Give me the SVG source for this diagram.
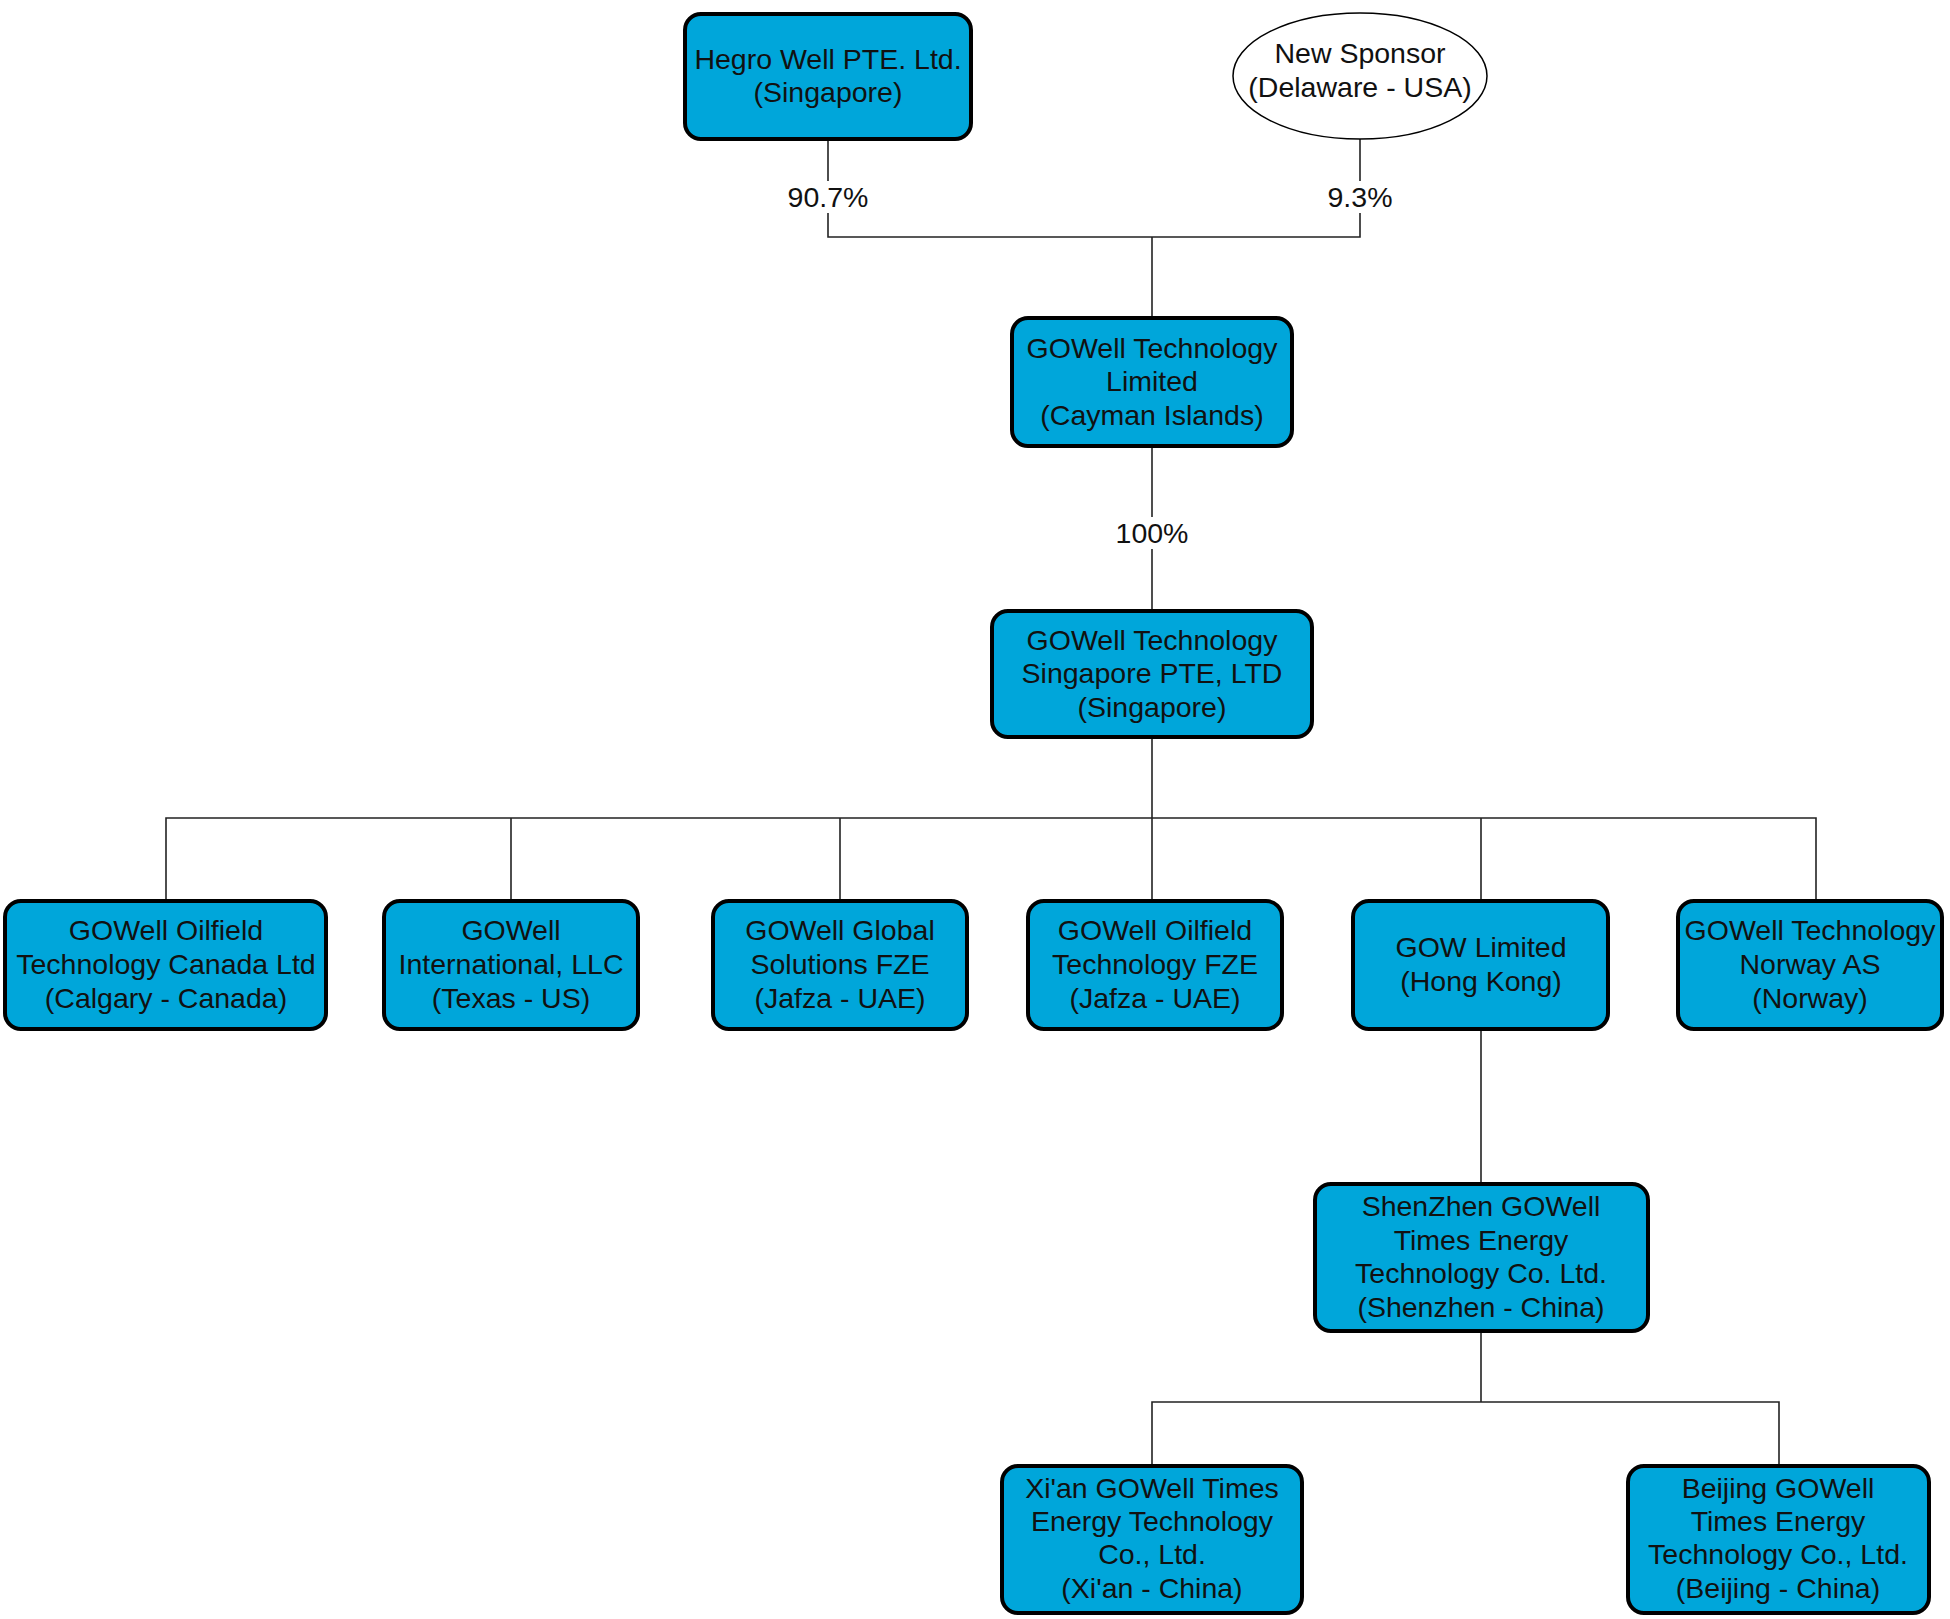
<svg xmlns="http://www.w3.org/2000/svg" width="1950" height="1619" viewBox="0 0 1950 1619">
<style>
.box{fill:#00A6DA;stroke:#000;stroke-width:4}
.ell{fill:#fff;stroke:#000;stroke-width:1.5}
.t{font-family:"Liberation Sans",Arial,sans-serif;font-size:28.5px;fill:#111;text-anchor:middle;dominant-baseline:central}
.c{fill:none;stroke:#222;stroke-width:1.6}
.bg{fill:#fff}
</style>
<rect width="1950" height="1619" fill="#fff"/>
<g id="connectors">
<path class="c" d="M828,139 V237 H1360 V139"/>
<path class="c" d="M1152,237 V318"/>
<path class="c" d="M1152,447 V611"/>
<path class="c" d="M1152,737 V818"/>
<path class="c" d="M166,901 V818 H1816 V901"/>
<path class="c" d="M511,818 V901 M840,818 V901 M1152,818 V901 M1481,818 V901"/>
<path class="c" d="M1481,1029 V1183"/>
<path class="c" d="M1481,1332 V1402"/>
<path class="c" d="M1152,1465 V1402 H1779 V1465"/>
<rect class="bg" x="786" y="181" width="84" height="32"/>
<text class="t" x="828" y="197">90.7%</text>
<rect class="bg" x="1328" y="181" width="64" height="32"/>
<text class="t" x="1360" y="197">9.3%</text>
<rect class="bg" x="1114" y="517" width="76" height="32"/>
<text class="t" x="1152" y="533">100%</text>
</g>
<g id="hegro">
<rect class="box" x="685" y="14" width="286" height="125" rx="16"/>
<text class="t" x="828" y="59">Hegro Well PTE. Ltd.</text>
<text class="t" x="828" y="92">(Singapore)</text>
</g>
<g id="sponsor">
<ellipse class="ell" cx="1360" cy="76" rx="127" ry="63"/>
<text class="t" x="1360" y="53">New Sponsor</text>
<text class="t" x="1360" y="87">(Delaware - USA)</text>
</g>
<g id="cayman">
<rect class="box" x="1012" y="318" width="280" height="128" rx="16"/>
<text class="t" x="1152" y="348">GOWell Technology</text>
<text class="t" x="1152" y="381">Limited</text>
<text class="t" x="1152" y="415">(Cayman Islands)</text>
</g>
<g id="singapore">
<rect class="box" x="992" y="611" width="320" height="126" rx="16"/>
<text class="t" x="1152" y="640">GOWell Technology</text>
<text class="t" x="1152" y="673">Singapore PTE, LTD</text>
<text class="t" x="1152" y="707">(Singapore)</text>
</g>
<g id="canada">
<rect class="box" x="5" y="901" width="321" height="128" rx="16"/>
<text class="t" x="166" y="930">GOWell Oilfield</text>
<text class="t" x="166" y="964">Technology Canada Ltd</text>
<text class="t" x="166" y="998">(Calgary - Canada)</text>
</g>
<g id="texas">
<rect class="box" x="384" y="901" width="254" height="128" rx="16"/>
<text class="t" x="511" y="930">GOWell</text>
<text class="t" x="511" y="964">International, LLC</text>
<text class="t" x="511" y="998">(Texas - US)</text>
</g>
<g id="global">
<rect class="box" x="713" y="901" width="254" height="128" rx="16"/>
<text class="t" x="840" y="930">GOWell Global</text>
<text class="t" x="840" y="964">Solutions FZE</text>
<text class="t" x="840" y="998">(Jafza - UAE)</text>
</g>
<g id="oilfield-fze">
<rect class="box" x="1028" y="901" width="254" height="128" rx="16"/>
<text class="t" x="1155" y="930">GOWell Oilfield</text>
<text class="t" x="1155" y="964">Technology FZE</text>
<text class="t" x="1155" y="998">(Jafza - UAE)</text>
</g>
<g id="gow">
<rect class="box" x="1353" y="901" width="255" height="128" rx="16"/>
<text class="t" x="1481" y="947">GOW Limited</text>
<text class="t" x="1481" y="981">(Hong Kong)</text>
</g>
<g id="norway">
<rect class="box" x="1678" y="901" width="264" height="128" rx="16"/>
<text class="t" x="1810" y="930">GOWell Technology</text>
<text class="t" x="1810" y="964">Norway AS</text>
<text class="t" x="1810" y="998">(Norway)</text>
</g>
<g id="shenzhen">
<rect class="box" x="1315" y="1184" width="333" height="147" rx="16"/>
<text class="t" x="1481" y="1206">ShenZhen GOWell</text>
<text class="t" x="1481" y="1240">Times Energy</text>
<text class="t" x="1481" y="1273">Technology Co. Ltd.</text>
<text class="t" x="1481" y="1307">(Shenzhen - China)</text>
</g>
<g id="xian">
<rect class="box" x="1002" y="1466" width="300" height="147" rx="16"/>
<text class="t" x="1152" y="1488">Xi'an GOWell Times</text>
<text class="t" x="1152" y="1521">Energy Technology</text>
<text class="t" x="1152" y="1554">Co., Ltd.</text>
<text class="t" x="1152" y="1588">(Xi'an - China)</text>
</g>
<g id="beijing">
<rect class="box" x="1628" y="1466" width="301" height="147" rx="16"/>
<text class="t" x="1778" y="1488">Beijing GOWell</text>
<text class="t" x="1778" y="1521">Times Energy</text>
<text class="t" x="1778" y="1554">Technology Co., Ltd.</text>
<text class="t" x="1778" y="1588">(Beijing - China)</text>
</g>
</svg>
